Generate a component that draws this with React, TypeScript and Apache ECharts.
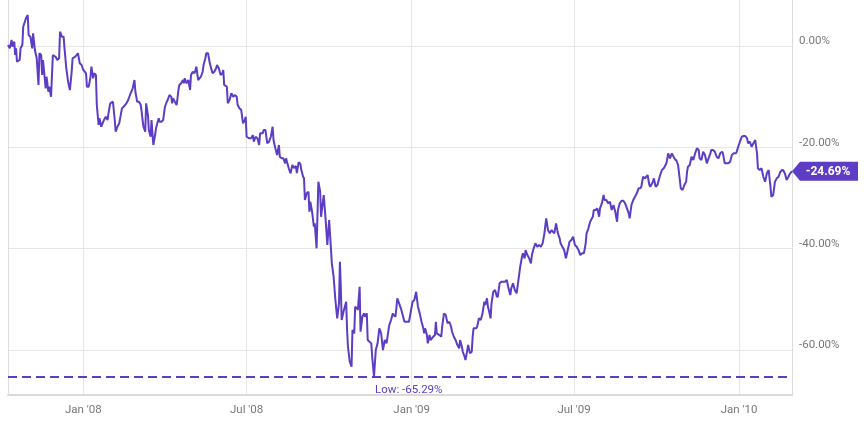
import React, { useEffect, useRef } from "react";
import * as echarts from "echarts";

// Total return (%)
const data2007: [string, number][] = [
  ["2007-10-09", 0.26], ["2007-10-11", -0.4], ["2007-10-13", 1.25], ["2007-10-14", -0.08],
  ["2007-10-16", 0.91], ["2007-10-17", -1.72], ["2007-10-18", -0.4], ["2007-10-19", -3.04],
  ["2007-10-22", -2.71], ["2007-10-23", -0.4], ["2007-10-25", 0.26], ["2007-10-26", 3.87],
  ["2007-10-29", 5.53], ["2007-10-31", 6.19], ["2007-11-01", 2.23], ["2007-11-03", 1.9],
  ["2007-11-05", -0.4], ["2007-11-06", 2.57], ["2007-11-08", -0.73], ["2007-11-10", -2.37],
  ["2007-11-12", -7.65], ["2007-11-13", -1.38], ["2007-11-15", -1.72], ["2007-11-16", -5.67],
  ["2007-11-17", -2.71], ["2007-11-20", -8.3], ["2007-11-21", -6.01], ["2007-11-23", -8.97],
  ["2007-11-24", -7.98], ["2007-11-26", -9.96], ["2007-11-28", -1.72], ["2007-12-01", -2.06],
  ["2007-12-03", -2.71], ["2007-12-05", -2.37], ["2007-12-06", 2.89], ["2007-12-08", 1.9],
  ["2007-12-10", 1.9], ["2007-12-11", -0.4], ["2007-12-13", -4.35], ["2007-12-15", -7.0],
  ["2007-12-17", -8.64], ["2007-12-19", -5.02], ["2007-12-20", -2.37], ["2007-12-23", -2.06],
  ["2007-12-26", -1.38], ["2007-12-28", -3.36], ["2007-12-30", -3.7],
];

const data2008: [string, number][] = [
  ["2008-01-01", -4.68], ["2008-01-04", -5.34], ["2008-01-05", -7.98], ["2008-01-07", -7.98],
  ["2008-01-09", -6.01], ["2008-01-10", -4.03], ["2008-01-12", -6.32], ["2008-01-13", -5.34],
  ["2008-01-15", -5.67], ["2008-01-16", -11.6], ["2008-01-18", -15.55], ["2008-01-19", -14.23],
  ["2008-01-21", -15.89], ["2008-01-24", -14.56], ["2008-01-26", -13.91], ["2008-01-28", -14.56],
  ["2008-01-29", -13.24], ["2008-01-31", -11.26], ["2008-02-03", -10.95], ["2008-02-05", -14.56],
  ["2008-02-06", -16.88], ["2008-02-08", -15.89], ["2008-02-10", -15.22], ["2008-02-13", -12.25],
  ["2008-02-15", -11.94], ["2008-02-18", -11.26], ["2008-02-20", -10.61], ["2008-02-22", -9.62],
  ["2008-02-25", -8.3], ["2008-02-27", -6.66], ["2008-02-28", -8.97], ["2008-03-01", -10.95],
  ["2008-03-03", -10.95], ["2008-03-05", -11.6], ["2008-03-06", -12.92], ["2008-03-07", -14.56],
  ["2008-03-08", -15.89], ["2008-03-10", -16.88], ["2008-03-11", -11.26], ["2008-03-13", -13.58],
  ["2008-03-14", -16.54], ["2008-03-16", -17.87], ["2008-03-17", -14.56], ["2008-03-19", -19.51],
  ["2008-03-21", -17.53], ["2008-03-22", -16.21], ["2008-03-25", -14.23], ["2008-03-26", -14.9],
  ["2008-03-28", -14.9], ["2008-03-30", -14.56], ["2008-04-01", -11.94], ["2008-04-03", -10.95],
  ["2008-04-04", -10.61], ["2008-04-06", -9.62], ["2008-04-08", -9.96], ["2008-04-09", -11.26],
  ["2008-04-10", -10.28], ["2008-04-12", -10.95], ["2008-04-14", -11.6], ["2008-04-16", -8.64],
  ["2008-04-17", -7.65], ["2008-04-19", -7.31], ["2008-04-21", -6.66], ["2008-04-22", -7.31],
  ["2008-04-23", -6.32], ["2008-04-25", -7.31], ["2008-04-27", -6.66], ["2008-04-29", -8.64],
  ["2008-04-30", -5.67], ["2008-05-02", -5.02], ["2008-05-04", -5.34], ["2008-05-06", -4.03],
  ["2008-05-08", -6.66], ["2008-05-11", -6.01], ["2008-05-13", -5.02], ["2008-05-14", -3.7],
  ["2008-05-16", -2.37], ["2008-05-17", -1.38], ["2008-05-19", -1.38], ["2008-05-21", -3.36],
  ["2008-05-22", -4.03], ["2008-05-24", -5.34], ["2008-05-26", -5.02], ["2008-05-28", -4.35],
  ["2008-05-29", -3.7], ["2008-05-31", -4.35], ["2008-06-02", -5.67], ["2008-06-04", -5.34],
  ["2008-06-05", -4.68], ["2008-06-06", -7.65], ["2008-06-09", -7.98], ["2008-06-10", -11.26],
  ["2008-06-12", -10.61], ["2008-06-14", -9.29], ["2008-06-16", -9.96], ["2008-06-18", -9.62],
  ["2008-06-20", -9.96], ["2008-06-21", -11.6], ["2008-06-23", -12.25], ["2008-06-25", -12.59],
  ["2008-06-27", -15.22], ["2008-06-29", -14.56], ["2008-06-30", -13.91], ["2008-07-01", -17.87],
  ["2008-07-04", -18.19], ["2008-07-06", -18.19], ["2008-07-08", -17.53], ["2008-07-09", -18.85],
  ["2008-07-11", -17.87], ["2008-07-13", -18.19], ["2008-07-15", -19.51], ["2008-07-16", -17.19],
  ["2008-07-19", -17.19], ["2008-07-20", -16.54], ["2008-07-22", -16.54], ["2008-07-24", -19.17],
  ["2008-07-26", -18.85], ["2008-07-28", -17.87], ["2008-07-30", -15.89], ["2008-07-31", -18.52],
  ["2008-08-02", -20.16], ["2008-08-04", -21.48], ["2008-08-06", -19.51], ["2008-08-07", -21.82],
  ["2008-08-09", -22.13], ["2008-08-11", -22.13], ["2008-08-13", -23.12], ["2008-08-14", -22.13],
  ["2008-08-15", -22.81], ["2008-08-17", -24.11], ["2008-08-19", -25.1], ["2008-08-21", -23.46],
  ["2008-08-23", -24.05], ["2008-08-25", -23.66], ["2008-08-26", -25.04], ["2008-08-28", -22.87],
  ["2008-08-30", -23.26], ["2008-08-31", -24.45], ["2008-09-02", -25.77], ["2008-09-03", -26.09],
  ["2008-09-04", -30.38], ["2008-09-06", -29.05], ["2008-09-08", -28.74], ["2008-09-09", -32.69],
  ["2008-09-10", -30.71], ["2008-09-12", -32.69], ["2008-09-14", -35.65], ["2008-09-15", -34.98],
  ["2008-09-17", -39.92], ["2008-09-19", -26.76], ["2008-09-21", -28.74], ["2008-09-22", -33.68],
  ["2008-09-25", -29.39], ["2008-09-27", -33.99], ["2008-09-29", -39.27], ["2008-10-01", -34.33],
  ["2008-10-03", -39.92], ["2008-10-04", -42.89], ["2008-10-06", -45.53], ["2008-10-08", -50.14],
  ["2008-10-10", -53.75], ["2008-10-12", -50.79], ["2008-10-13", -42.57], ["2008-10-14", -47.51],
  ["2008-10-15", -54.09], ["2008-10-17", -52.45], ["2008-10-20", -50.47], ["2008-10-21", -56.07],
  ["2008-10-22", -59.37], ["2008-10-24", -62.33], ["2008-10-26", -63.32], ["2008-10-27", -56.07],
  ["2008-10-29", -56.72], ["2008-10-30", -51.46], ["2008-11-01", -51.78], ["2008-11-02", -52.11],
  ["2008-11-04", -47.51], ["2008-11-05", -56.4], ["2008-11-07", -53.44], ["2008-11-09", -52.77],
  ["2008-11-10", -53.44], ["2008-11-12", -52.77], ["2008-11-13", -58.04], ["2008-11-15", -58.38],
  ["2008-11-17", -58.7], ["2008-11-18", -61.34], ["2008-11-20", -65.29], ["2008-11-22", -60.02],
  ["2008-11-24", -58.7], ["2008-11-26", -55.73], ["2008-11-28", -56.72], ["2008-11-30", -60.02],
  ["2008-12-02", -58.04], ["2008-12-04", -58.7], ["2008-12-07", -55.08], ["2008-12-09", -54.09],
  ["2008-12-11", -52.77], ["2008-12-12", -53.1], ["2008-12-14", -53.44], ["2008-12-16", -49.8],
  ["2008-12-18", -50.79], ["2008-12-20", -51.78], ["2008-12-22", -53.1], ["2008-12-24", -54.43],
  ["2008-12-26", -54.43], ["2008-12-29", -54.43], ["2008-12-31", -52.45],
];

const data2009: [string, number][] = [
  ["2009-01-02", -50.47], ["2009-01-04", -50.14], ["2009-01-06", -48.5], ["2009-01-08", -51.46],
  ["2009-01-10", -52.77], ["2009-01-12", -54.43], ["2009-01-14", -55.73], ["2009-01-15", -56.72],
  ["2009-01-16", -55.73], ["2009-01-18", -57.05], ["2009-01-19", -58.7], ["2009-01-21", -57.05],
  ["2009-01-22", -58.04], ["2009-01-25", -57.39], ["2009-01-27", -57.05], ["2009-01-28", -54.43],
  ["2009-01-29", -56.72], ["2009-02-01", -57.05], ["2009-02-03", -57.39], ["2009-02-04", -55.41],
  ["2009-02-06", -52.77], ["2009-02-08", -53.1], ["2009-02-10", -54.74], ["2009-02-12", -54.43],
  ["2009-02-14", -55.41], ["2009-02-15", -56.4], ["2009-02-17", -57.39], ["2009-02-19", -58.04],
  ["2009-02-21", -59.03], ["2009-02-23", -59.68], ["2009-02-24", -58.04], ["2009-02-26", -59.37],
  ["2009-02-27", -60.36], ["2009-03-01", -61.34], ["2009-03-02", -62.0], ["2009-03-04", -60.02],
  ["2009-03-05", -59.03], ["2009-03-07", -60.67], ["2009-03-09", -60.36], ["2009-03-10", -57.39],
  ["2009-03-11", -55.73], ["2009-03-14", -55.73], ["2009-03-15", -55.41], ["2009-03-17", -53.75],
  ["2009-03-19", -54.09], ["2009-03-21", -52.77], ["2009-03-23", -50.47], ["2009-03-24", -51.13],
  ["2009-03-26", -49.8], ["2009-03-27", -51.46], ["2009-03-28", -52.11], ["2009-03-30", -53.75],
  ["2009-03-31", -50.79], ["2009-04-02", -48.5], ["2009-04-04", -48.16], ["2009-04-06", -49.49],
  ["2009-04-07", -49.49], ["2009-04-09", -46.84], ["2009-04-11", -46.52], ["2009-04-13", -46.52],
  ["2009-04-15", -46.52], ["2009-04-17", -46.19], ["2009-04-19", -47.83], ["2009-04-21", -49.15],
  ["2009-04-22", -47.83], ["2009-04-24", -46.84], ["2009-04-26", -48.16], ["2009-04-28", -48.81],
  ["2009-04-30", -46.19], ["2009-05-02", -43.56], ["2009-05-04", -41.58], ["2009-05-05", -40.91],
  ["2009-05-07", -41.9], ["2009-05-08", -40.26], ["2009-05-10", -41.25], ["2009-05-12", -41.9],
  ["2009-05-14", -42.89], ["2009-05-15", -41.25], ["2009-05-17", -39.92], ["2009-05-19", -38.93],
  ["2009-05-21", -39.6], ["2009-05-23", -39.27], ["2009-05-25", -39.6], ["2009-05-27", -38.93],
  ["2009-05-29", -36.96], ["2009-05-31", -33.99], ["2009-06-02", -36.3], ["2009-06-04", -36.96],
  ["2009-06-06", -36.3], ["2009-06-09", -36.96], ["2009-06-11", -34.98], ["2009-06-13", -36.96],
  ["2009-06-15", -37.94], ["2009-06-16", -38.93], ["2009-06-18", -39.6], ["2009-06-20", -40.26],
  ["2009-06-22", -41.9], ["2009-06-24", -40.26], ["2009-06-26", -38.62], ["2009-06-28", -38.28],
  ["2009-06-30", -37.63], ["2009-07-02", -39.27], ["2009-07-04", -39.6], ["2009-07-06", -40.26],
  ["2009-07-08", -41.25], ["2009-07-10", -40.91], ["2009-07-12", -40.91], ["2009-07-14", -38.93],
  ["2009-07-15", -36.96], ["2009-07-17", -35.97], ["2009-07-19", -34.66], ["2009-07-21", -33.99],
  ["2009-07-22", -33.68], ["2009-07-23", -32.35], ["2009-07-25", -32.35], ["2009-07-27", -32.02],
  ["2009-07-29", -33.68], ["2009-07-30", -32.02], ["2009-08-01", -31.03], ["2009-08-03", -29.39],
  ["2009-08-04", -30.38], ["2009-08-06", -30.38], ["2009-08-08", -31.03], ["2009-08-10", -30.71],
  ["2009-08-12", -32.35], ["2009-08-14", -31.36], ["2009-08-16", -32.69], ["2009-08-18", -34.66],
  ["2009-08-19", -32.35], ["2009-08-21", -31.03], ["2009-08-23", -30.51], ["2009-08-25", -30.51],
  ["2009-08-27", -31.03], ["2009-08-29", -32.02], ["2009-08-31", -33.0], ["2009-09-01", -33.99],
  ["2009-09-03", -31.36], ["2009-09-05", -30.38], ["2009-09-07", -29.72], ["2009-09-09", -29.05],
  ["2009-09-11", -28.06], ["2009-09-13", -28.06], ["2009-09-14", -27.75], ["2009-09-16", -25.77],
  ["2009-09-18", -26.09], ["2009-09-21", -25.43], ["2009-09-23", -27.41], ["2009-09-24", -27.75],
  ["2009-09-27", -26.76], ["2009-09-28", -26.09], ["2009-09-30", -27.75], ["2009-10-02", -27.41],
  ["2009-10-05", -25.43], ["2009-10-07", -24.45], ["2009-10-09", -24.11], ["2009-10-10", -23.79],
  ["2009-10-12", -23.12], ["2009-10-14", -21.15], ["2009-10-16", -22.13], ["2009-10-18", -21.15],
  ["2009-10-20", -21.82], ["2009-10-22", -22.47], ["2009-10-23", -22.47], ["2009-10-25", -23.46],
  ["2009-10-27", -26.42], ["2009-10-28", -28.06], ["2009-10-30", -28.4], ["2009-11-01", -27.41],
  ["2009-11-03", -26.76], ["2009-11-04", -24.78], ["2009-11-05", -23.79], ["2009-11-07", -23.46],
  ["2009-11-09", -21.82], ["2009-11-11", -22.47], ["2009-11-13", -21.15], ["2009-11-15", -20.16],
  ["2009-11-17", -20.49], ["2009-11-18", -22.13], ["2009-11-20", -22.47], ["2009-11-22", -20.83],
  ["2009-11-24", -21.48], ["2009-11-26", -23.12], ["2009-11-28", -22.13], ["2009-11-30", -21.15],
  ["2009-12-01", -20.49], ["2009-12-03", -20.49], ["2009-12-05", -20.83], ["2009-12-07", -21.82],
  ["2009-12-09", -22.13], ["2009-12-11", -21.15], ["2009-12-13", -20.83], ["2009-12-14", -21.15],
  ["2009-12-16", -23.12], ["2009-12-18", -23.12], ["2009-12-20", -23.12], ["2009-12-22", -22.81],
  ["2009-12-24", -21.48], ["2009-12-26", -21.15], ["2009-12-28", -21.15], ["2009-12-29", -21.03],
  ["2009-12-31", -19.84],
];

const data2010: [string, number][] = [
  ["2010-01-02", -18.85], ["2010-01-04", -17.87], ["2010-01-06", -17.73], ["2010-01-08", -17.73],
  ["2010-01-10", -18.18], ["2010-01-11", -19.17], ["2010-01-13", -18.85], ["2010-01-15", -19.84],
  ["2010-01-17", -19.17], ["2010-01-19", -18.52], ["2010-01-21", -21.15], ["2010-01-22", -24.11],
  ["2010-01-24", -24.45], ["2010-01-26", -24.11], ["2010-01-28", -25.77], ["2010-01-30", -26.76],
  ["2010-02-01", -25.1], ["2010-02-03", -24.45], ["2010-02-05", -27.75], ["2010-02-06", -29.72],
  ["2010-02-08", -29.39], ["2010-02-10", -26.76], ["2010-02-12", -26.09], ["2010-02-14", -25.77],
  ["2010-02-16", -24.78], ["2010-02-18", -24.45], ["2010-02-19", -24.45], ["2010-02-21", -25.1],
  ["2010-02-23", -26.42], ["2010-02-25", -25.77], ["2010-02-27", -25.1], ["2010-03-01", -24.69],
];

const lowPoint: [string, number] = ["2008-11-20", -65.29];
const yRange = { min: -68.9, max: 9.15 };
const MONTHS = ["Jan", "Feb", "Mar", "Apr", "May", "Jun", "Jul", "Aug", "Sep", "Oct", "Nov", "Dec"];
const LABEL_MONTHS = [0, 6]; // Jan and Jul are labelled

const PURPLE = "#5c3dc3";
const GRID = "#e6e6e6";
const LABEL = "#777777";
const FONT = "Roboto";

export default function App() {
  const ref = useRef<HTMLDivElement>(null);

  useEffect(() => {
    if (!ref.current) return;
    const chart = echarts.init(ref.current, null, { renderer: "svg" });
    const data = [...data2007, ...data2008, ...data2009, ...data2010];
    const last = data[data.length - 1];

    chart.setOption({
      animation: false,
      grid: { left: 8, right: 74, top: 0, bottom: 26, containLabel: false },
      xAxis: {
        type: "time",
        min: "dataMin",
        max: "dataMax",
        splitNumber: 5,
        axisLine: { show: true, onZero: false, lineStyle: { color: "#dadada", width: 2 } },
        axisTick: { show: false },
        axisLabel: {
          showMinLabel: false,
          showMaxLabel: false,
          hideOverlap: false,
          color: LABEL,
          fontSize: 11.5,
          fontFamily: FONT,
          margin: 8,
          formatter: (v: number) => {
            const d = new Date(v);
            if (LABEL_MONTHS.indexOf(d.getMonth()) < 0) return "";
            return `${MONTHS[d.getMonth()]} '${String(d.getFullYear()).slice(2)}`;
          },
        },
        splitLine: {
          show: true,
          showMinLine: false,
          showMaxLine: false,
          lineStyle: { color: [GRID, "rgba(0,0,0,0)"], width: 1 },
        },
      },
      yAxis: [
        {
          type: "value",
          position: "right",
          min: yRange.min,
          max: yRange.max,
          axisLine: { show: true, lineStyle: { color: "#dadada", width: 1 } },
          axisTick: { show: false },
          axisLabel: {
            showMinLabel: false,
            showMaxLabel: false,
            verticalAlign: "bottom",
            margin: 7,
            color: LABEL,
            fontSize: 11.5,
            fontFamily: FONT,
            formatter: (v: number) => `${v.toFixed(2)}%`,
          },
          splitLine: {
            show: true,
            showMinLine: false,
            showMaxLine: false,
            lineStyle: { color: GRID, width: 1 },
          },
        },
        {
          type: "value",
          position: "left",
          min: yRange.min,
          max: yRange.max,
          axisLine: { show: true, lineStyle: { color: "#dddddd", width: 1 } },
          axisTick: { show: false },
          axisLabel: { show: false },
          splitLine: { show: false },
        },
      ],
      series: [
        {
          type: "line",
          data,
          yAxisIndex: 0,
          showSymbol: false,
          symbol: "none",
          silent: true,
          lineStyle: { color: PURPLE, width: 2 },
          itemStyle: { color: PURPLE },
          markLine: {
            silent: true,
            symbol: ["none", "none"],
            label: { show: false },
            lineStyle: { color: PURPLE, type: [9, 5], width: 2 },
            data: [{ yAxis: lowPoint[1] }],
          },
          markPoint: {
            silent: true,
            data: [
              {
                coord: lowPoint,
                symbol: "circle",
                symbolSize: 1,
                itemStyle: { color: "rgba(0,0,0,0)" },
                label: {
                  show: true,
                  position: "inside",
                  align: "left",
                  verticalAlign: "middle",
                  offset: [1, 12],
                  formatter: `Low: ${lowPoint[1].toFixed(2)}%`,
                  color: PURPLE,
                  fontSize: 11.5,
                  fontFamily: FONT,
                },
              },
              {
                coord: last,
                symbol: "path://M0,9.5L8,0L66,0L66,19L8,19Z",
                symbolSize: [66, 19],
                symbolOffset: [33, 0],
                symbolKeepAspect: false,
                itemStyle: { color: PURPLE },
                label: {
                  show: true,
                  position: "inside",
                  offset: [3, 0],
                  formatter: `${last[1].toFixed(2)}%`,
                  color: "#ffffff",
                  fontWeight: "bold",
                  fontSize: 12,
                  fontFamily: FONT,
                },
              },
            ],
          },
        },
      ],
    });

    return () => chart.dispose();
  }, []);

  return (
    <div
      ref={ref}
      style={{ position: "fixed", left: 0, top: 0, width: 866, height: 421 }}
    />
  );
}
